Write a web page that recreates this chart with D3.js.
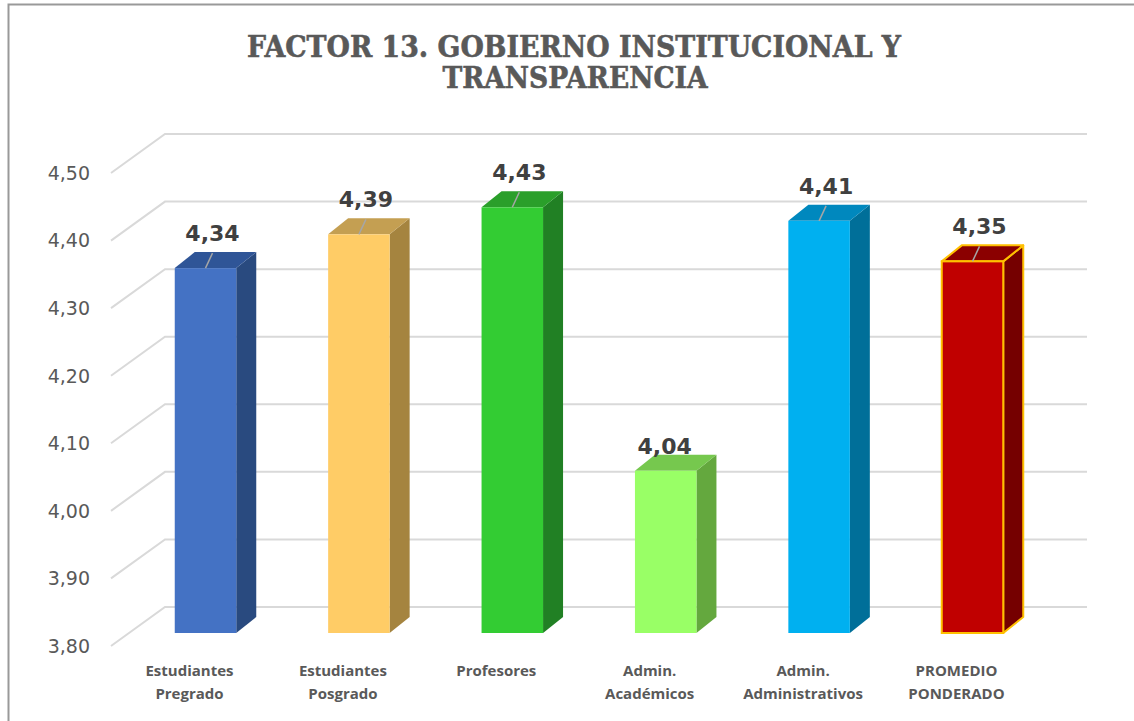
<!DOCTYPE html>
<html>
<head>
<meta charset="utf-8">
<script src="https://cdn.jsdelivr.net/npm/d3@7"></script>
<style>
  body { margin: 0; background: #fff; }
  svg { display: block; }
</style>
</head>
<body>
<svg width="1134" height="721"></svg>
<script>
// datos
var categories = ["Estudiantes\nPregrado", "Estudiantes\nPosgrado", "Profesores",
                  "Admin.\nAcadémicos", "Admin.\nAdministrativos", "PROMEDIO\nPONDERADO"];
var values = [4.34, 4.39, 4.43, 4.04, 4.41, 4.35];
var ticks = [3.80, 3.90, 4.00, 4.10, 4.20, 4.30, 4.40, 4.50];
var frontColors = ["#4472C4", "#FFCC66", "#33CC33", "#99FF66", "#00B0F0", "#C00000"];
var topColors   = ["#2F5597", "#C49F52", "#2A9F2A", "#76C84E", "#0088BE", "#8B0000"];
var sideColors  = ["#294A7F", "#A5843F", "#218024", "#64A83E", "#006F99", "#750000"];

var svg = d3.select("svg");
var fmt = function (v) { return d3.format(".2f")(v).replace(".", ","); };

var y = d3.scaleLinear().domain([3.8, 4.5]).range([633, 160]);
var x = d3.scalePoint().domain(categories).range([205.5, 972.5]);
var bw = 61.5, ddx = 20, ddy = 16;

// marco
svg.append("path")
    .attr("d", "M8.5,721V4.5H1134")
    .attr("fill", "none")
    .attr("stroke", "#999")
    .attr("stroke-width", 2);

// titulo
var title = svg.append("text")
    .attr("text-anchor", "middle")
    .attr("font-family", "'DejaVu Serif', serif")
    .attr("font-weight", "bold")
    .attr("font-size", 29)
    .attr("fill", "#595959")
    .attr("stroke", "#595959")
    .attr("stroke-width", 0.6);
title.append("tspan").attr("x", 574).attr("y", 57)
    .attr("textLength", 654).attr("lengthAdjust", "spacingAndGlyphs")
    .text("FACTOR 13. GOBIERNO INSTITUCIONAL Y");
title.append("tspan").attr("x", 575).attr("y", 88)
    .attr("textLength", 265).attr("lengthAdjust", "spacingAndGlyphs")
    .text("TRANSPARENCIA");

// lineas de cuadricula (pared + piso)
svg.append("g").selectAll("path")
    .data(ticks)
    .join("path")
    .attr("d", function (d) {
      var yb = y(d) - 26;
      return "M111," + (y(d) + 13) + "L165," + yb + "H1087";
    })
    .attr("fill", "none")
    .attr("stroke", "#D9D9D9")
    .attr("stroke-width", 2);

// etiquetas del eje
svg.append("g").selectAll("text")
    .data(ticks)
    .join("text")
    .attr("x", 90)
    .attr("y", function (d) { return y(d) + 13; })
    .attr("dy", "0.36em")
    .attr("text-anchor", "end")
    .attr("font-family", "'DejaVu Sans', Verdana, sans-serif")
    .attr("font-size", 19)
    .attr("fill", "#595959")
    .text(fmt);

// barras 3D
var bars = svg.append("g").selectAll("g")
    .data(values)
    .join("g");

var isAvg = function (i) { return i === values.length - 1; };

bars.append("path")   // lado
    .attr("d", function (d, i) {
      var x1 = x(categories[i]) + bw / 2, yt = y(d), yb = y(3.8);
      return "M" + x1 + "," + yt + "L" + (x1 + ddx) + "," + (yt - ddy) +
             "L" + (x1 + ddx) + "," + (yb - ddy) + "L" + x1 + "," + yb + "Z";
    })
    .attr("fill", function (d, i) { return sideColors[i]; })
    .attr("stroke", function (d, i) { return isAvg(i) ? "#FFC000" : "none"; })
    .attr("stroke-width", 2)
    .attr("stroke-linejoin", "round");

bars.append("path")   // tapa
    .attr("d", function (d, i) {
      var x0 = x(categories[i]) - bw / 2, yt = y(d);
      return "M" + x0 + "," + yt + "L" + (x0 + ddx) + "," + (yt - ddy) +
             "H" + (x0 + bw + ddx) + "L" + (x0 + bw) + "," + yt + "Z";
    })
    .attr("fill", function (d, i) { return topColors[i]; })
    .attr("stroke", function (d, i) { return isAvg(i) ? "#FFC000" : "none"; })
    .attr("stroke-width", 2)
    .attr("stroke-linejoin", "round");

bars.append("rect")   // frente
    .attr("x", function (d, i) { return x(categories[i]) - bw / 2; })
    .attr("y", function (d) { return y(d); })
    .attr("width", bw)
    .attr("height", function (d) { return y(3.8) - y(d); })
    .attr("fill", function (d, i) { return frontColors[i]; })
    .attr("stroke", function (d, i) { return isAvg(i) ? "#FFC000" : "none"; })
    .attr("stroke-width", 2);

// lineas guia y etiquetas de valor
bars.filter(function (d, i) { return i !== 3; })
    .append("line")
    .attr("x1", function (d) { return x(categories[values.indexOf(d)]); })
    .attr("y1", function (d) { return y(d); })
    .attr("x2", function (d) { return x(categories[values.indexOf(d)]) + 7; })
    .attr("y2", function (d) { return y(d) - 15; })
    .attr("stroke", "#A6A6A6")
    .attr("stroke-width", 1.5);

bars.append("text")
    .attr("x", function (d, i) { return x(categories[i]) + (i === 3 ? -1 : 7); })
    .attr("y", function (d, i) { return y(d) - (i === 3 ? 17 : 27); })
    .attr("text-anchor", "middle")
    .attr("font-family", "'DejaVu Sans', Verdana, sans-serif")
    .attr("font-weight", "bold")
    .attr("font-size", 22)
    .attr("fill", "#404040")
    .text(fmt);

// etiquetas de categoria
var cat = svg.append("g").selectAll("text")
    .data(categories)
    .join("text")
    .attr("text-anchor", "middle")
    .attr("font-family", "'Open Sans', 'Noto Sans', sans-serif")
    .attr("font-weight", "bold")
    .attr("font-size", 15)
    .attr("fill", "#595959");

cat.each(function (d) {
  var t = d3.select(this), cx = x(d) - 16;
  d.split("\n").forEach(function (s, k) {
    t.append("tspan").attr("x", cx).attr("y", 676 + k * 23).text(s);
  });
});
</script>
</body>
</html>
